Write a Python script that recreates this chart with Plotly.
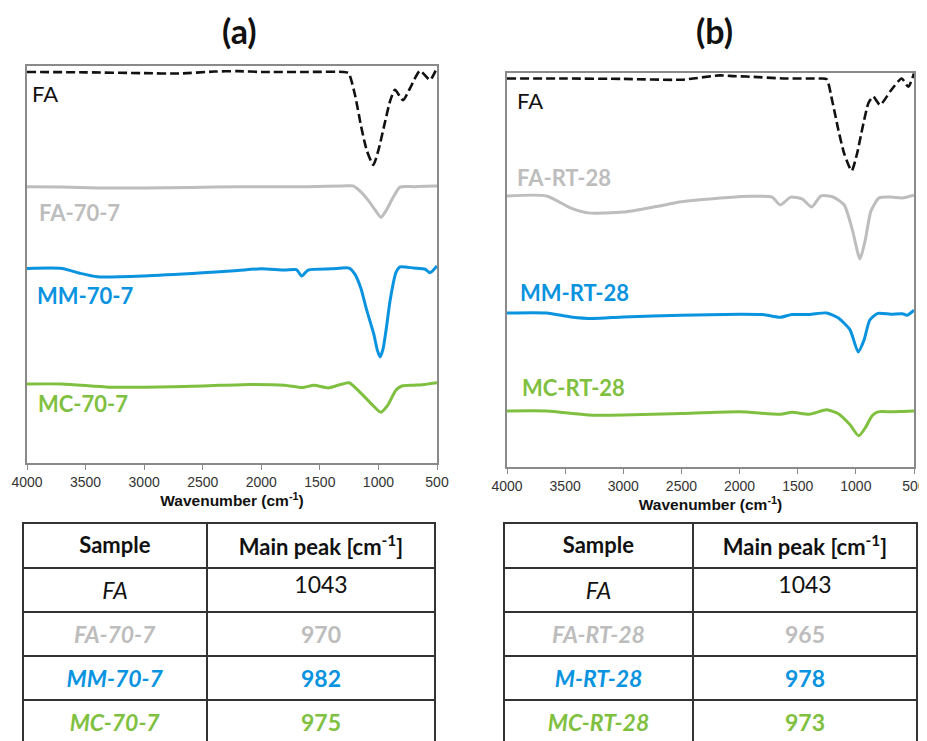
import plotly.graph_objects as go

# ---------------- data ----------------
# Panel (a)
A_FA_WN = [4000, 3500, 3000, 2700, 2400, 2200, 2000, 1600, 1300, 1255, 1200, 1150, 1100, 1044, 1000, 950, 900, 859, 790, 720, 645, 560, 500]
A_FA_T = [98.5, 98.4, 98.2, 98.1, 98.6, 98.7, 98.5, 98.5, 98.5, 98.2, 92.7, 85.1, 78.8, 75.1, 78.8, 85.1, 91.2, 94.0, 91.4, 95.0, 98.8, 96.5, 99.6]

A_FA707_WN = [4000, 3700, 3400, 3000, 2600, 2200, 1900, 1600, 1300, 1217, 1150, 1080, 1030, 978, 930, 880, 816, 700, 600, 500]
A_FA707_T = [69.6, 69.5, 69.3, 69.3, 69.4, 69.6, 69.6, 69.6, 69.8, 69.8, 68.3, 65.9, 63.8, 61.9, 63.8, 66.6, 69.5, 69.6, 69.7, 69.8]

A_MM707_WN = [4000, 3700, 3550, 3400, 3000, 2500, 2200, 2000, 1800, 1700, 1655, 1600, 1400, 1250, 1200, 1150, 1100, 1040, 1010, 985, 960, 930, 900, 850, 815, 700, 600, 560, 500]
A_MM707_T = [49.0, 49.0, 47.8, 46.9, 47.1, 47.9, 48.5, 48.9, 48.6, 48.7, 47.1, 48.6, 48.9, 49.1, 47.5, 44.0, 38.5, 32.5, 28.5, 26.7, 28.8, 34.5, 41.0, 48.0, 49.4, 49.1, 48.8, 47.9, 49.6]

A_MC707_WN = [4000, 3700, 3300, 3000, 2500, 2100, 1800, 1650, 1550, 1430, 1330, 1250, 1150, 1050, 980, 920, 850, 800, 700, 600, 500]
A_MC707_T = [19.9, 19.9, 19.1, 19.1, 19.4, 19.8, 19.6, 19.0, 19.6, 18.9, 19.7, 20.2, 17.6, 14.6, 12.8, 14.6, 18.4, 19.4, 19.6, 19.8, 20.2]

# Panel (b)
B_FA_WN = [4000, 3500, 3000, 2500, 2170, 2050, 1940, 1600, 1300, 1251, 1200, 1150, 1100, 1036, 990, 940, 890, 850, 792, 700, 606, 549, 500]
B_FA_T = [98.6, 98.6, 98.5, 98.3, 99.4, 99.2, 99.1, 98.6, 98.6, 98.4, 92.5, 85.5, 79.5, 75.2, 79.5, 86.5, 92.5, 94.0, 91.9, 95.5, 98.6, 96.5, 99.9]

B_FART28_WN = [4000, 3660, 3450, 3300, 3000, 2700, 2500, 2100, 1900, 1720, 1650, 1560, 1460, 1380, 1300, 1200, 1100, 1030, 965, 920, 870, 800, 700, 600, 500]
B_FART28_T = [68.8, 68.8, 65.7, 64.5, 64.7, 66.2, 67.3, 68.4, 68.7, 68.5, 66.5, 68.5, 68.0, 66.0, 68.8, 68.6, 66.5, 60.2, 52.8, 57.5, 65.0, 68.3, 68.5, 68.3, 69.0]

B_MMRT28_WN = [4000, 3660, 3450, 3260, 3000, 2500, 2000, 1800, 1650, 1550, 1400, 1250, 1150, 1050, 980, 930, 880, 810, 700, 600, 560, 500]
B_MMRT28_T = [39.1, 39.1, 38.1, 37.7, 38.1, 38.5, 38.8, 38.7, 38.0, 38.7, 38.7, 39.1, 37.8, 34.8, 29.2, 32.2, 37.3, 39.0, 38.8, 38.9, 38.5, 39.8]

B_MCRT28_WN = [4000, 3660, 3300, 3000, 2500, 2000, 1650, 1550, 1400, 1250, 1150, 1050, 975, 920, 860, 810, 700, 600, 500]
B_MCRT28_T = [14.2, 14.2, 13.2, 13.2, 13.6, 14.0, 13.4, 13.9, 13.4, 14.5, 13.5, 10.7, 7.9, 9.9, 13.0, 14.0, 14.0, 14.1, 14.2]

X_TICKS = [4000, 3500, 3000, 2500, 2000, 1500, 1000, 500]

TABLE_HEADER = ["Sample", "Main peak [cm<sup>-1</sup>]"]
A_SAMPLES = ["FA", "FA-70-7", "MM-70-7", "MC-70-7"]
A_PEAKS = ["1043", "970", "982", "975"]
B_SAMPLES = ["FA", "FA-RT-28", "M-RT-28", "MC-RT-28"]
B_PEAKS = ["1043", "965", "978", "973"]

A_LABELS = ["FA", "FA-70-7", "MM-70-7", "MC-70-7"]
A_LABEL_POS = [(3975, 93.2), (3915, 63.2), (3932, 42.3), (3924, 14.9)]
B_LABELS = ["FA", "FA-RT-28", "MM-RT-28", "MC-RT-28"]
B_LABEL_POS = [(3931, 93.1), (3931, 73.4), (3905, 44.4), (3888, 20.1)]

# ---------------- style ----------------
BLACK = "#111111"
GRAY = "#BDBDBD"
BLUE = "#0A93DF"
GREEN = "#80C040"
COLORS = [BLACK, GRAY, BLUE, GREEN]
FONT = "Lato"

fig = go.Figure()

def add_curve(wn, t, color, xa, ya, dash=None, width=3):
    fig.add_trace(go.Scatter(
        x=wn, y=t, mode="lines", xaxis=xa, yaxis=ya, showlegend=False,
        line=dict(color=color, width=width, dash=dash, shape="spline", smoothing=0.6),
        hoverinfo="skip"))

add_curve(A_FA_WN, A_FA_T, BLACK, "x", "y", dash="9px,4px", width=2.6)
add_curve(A_FA707_WN, A_FA707_T, GRAY, "x", "y")
add_curve(A_MM707_WN, A_MM707_T, BLUE, "x", "y")
add_curve(A_MC707_WN, A_MC707_T, GREEN, "x", "y")

add_curve(B_FA_WN, B_FA_T, BLACK, "x2", "y2", dash="9px,4px", width=2.6)
add_curve(B_FART28_WN, B_FART28_T, GRAY, "x2", "y2")
add_curve(B_MMRT28_WN, B_MMRT28_T, BLUE, "x2", "y2")
add_curve(B_MCRT28_WN, B_MCRT28_T, GREEN, "x2", "y2")

# page body has an 8px margin, so the figure is drawn 8px in from the window corner
OFF = 8
W, H = 927 - OFF, 741 - OFF
def fx(px):
    return (px - OFF) / W
def fy(py):
    return (H - (py - OFF)) / H

axis_common = dict(
    showline=True, linecolor="#8a8a8a", linewidth=1.5, mirror=True,
    showgrid=False, zeroline=False, automargin=False,
)
xcommon = dict(axis_common, range=[4000, 500], tickvals=X_TICKS, ticks="outside",
               ticklen=5, tickcolor="#8a8a8a", tickwidth=1.2,
               tickfont=dict(family="Liberation Sans", size=14, color="#333"),
               title=dict(text="<b>Wavenumber (cm<sup>-1</sup>)</b>",
                          font=dict(family="Liberation Sans", size=15.5, color="#111"),
                          standoff=0))
ycommon = dict(axis_common, range=[0, 100], showticklabels=False, ticks="")

fig.update_layout(
    width=W, height=H, margin=dict(l=0, r=0, t=0, b=0, pad=0, autoexpand=False),
    paper_bgcolor="white", plot_bgcolor="white",
    xaxis=dict(xcommon, domain=[fx(27), fx(437)], anchor="y"),
    yaxis=dict(ycommon, domain=[fy(463), fy(66)], anchor="x"),
    xaxis2=dict(xcommon, domain=[fx(507), fx(914)], anchor="y2"),
    yaxis2=dict(ycommon, domain=[fy(467), fy(73)], anchor="x2"),
)

# panel titles
for txt, px in [("(a)", 239), ("(b)", 714)]:
    fig.add_annotation(text=f"<b>{txt}</b>", x=fx(px), y=fy(31), xref="paper", yref="paper",
                       xanchor="center", yanchor="middle",
                       showarrow=False, font=dict(family=FONT, size=34, color="#111"))

# curve labels
def add_labels(labels, pos, xr, yr):
    for i, (lab, (x, y)) in enumerate(zip(labels, pos)):
        txt = lab if i == 0 else f"<b>{lab}</b>"
        fig.add_annotation(text=txt, x=x, y=y, xref=xr, yref=yr, xanchor="left",
                           yanchor="middle", showarrow=False,
                           font=dict(family=FONT, size=22, color=COLORS[i]))

add_labels(A_LABELS, A_LABEL_POS, "x", "y")
add_labels(B_LABELS, B_LABEL_POS, "x2", "y2")

# tables
def add_table(samples, peaks, x0, xmid, x1):
    col1 = []
    col2 = []
    for i, (s, p) in enumerate(zip(samples, peaks)):
        if i == 0:
            col1.append(f"<i>{s}</i>")
            col2.append(p)
        else:
            col1.append(f"<b><i>{s}</i></b>")
            col2.append(f"<b>{p}</b>")
    fig.add_trace(go.Table(
        domain=dict(x=[fx(x0), fx(x1)], y=[0, fy(523)]),
        columnwidth=[xmid - x0, x1 - xmid],
        header=dict(values=[f"<b>{h}</b>" for h in TABLE_HEADER], height=45,
                    fill_color="white", line=dict(color="#333", width=1.5),
                    align="center", font=dict(family=FONT, size=22, color="#111")),
        cells=dict(values=[col1, col2], height=44, fill_color="white",
                   line=dict(color="#333", width=1.5), align="center",
                   font=dict(family=FONT, size=23, color=[COLORS, COLORS])),
    ))

add_table(A_SAMPLES, A_PEAKS, 23, 207, 435)
add_table(B_SAMPLES, B_PEAKS, 504, 693, 917)

fig.write_html("out.html")
